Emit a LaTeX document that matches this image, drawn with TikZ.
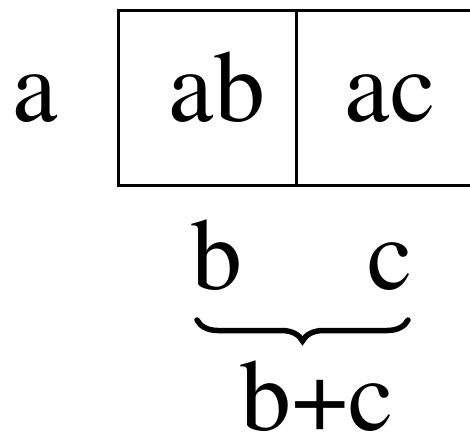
\documentclass[tikz,border=0pt]{standalone}
\usepackage{fontspec}
\newfontfamily\tnrfont{texgyretermes-regular.otf}
\usetikzlibrary{decorations.pathreplacing}
\begin{document}
\begin{tikzpicture}[x=1pt,y=-1pt,
  lbl/.style={anchor=base,inner sep=0pt,font=\tnrfont\fontsize{102}{120}\selectfont},
  boxline/.style={line width=3pt,line join=miter}]
\useasboundingbox (0,0) rectangle (470,437);
\coordinate (tl) at (118,10);
\coordinate (bl) at (118,185);
\coordinate (tr) at (480,10);
\coordinate (br) at (480,185);
\coordinate (mt) at (296,10);
\coordinate (mb) at (296,185);
\draw[boxline] (tr) -- (tl) -- (bl) -- (br);
\draw[boxline] (mt) -- (mb);
\node[lbl] (a) at (35,121) {a};
\node[lbl] (ab) at (217,121) {ab};
\node[lbl] (ac) at (390,121) {ac};
\node[lbl] (b) at (217,289) {b};
\node[lbl] (c) at (390,289) {c};
\coordinate (bs) at (197,320);
\coordinate (be) at (408,320);
\draw[line width=5.5pt,line cap=round,decorate,decoration={brace,mirror,amplitude=21pt}] (bs) -- (be);
\node[lbl,text depth=0pt] (bc) at (317,430) {b+c};
\end{tikzpicture}
\end{document}
